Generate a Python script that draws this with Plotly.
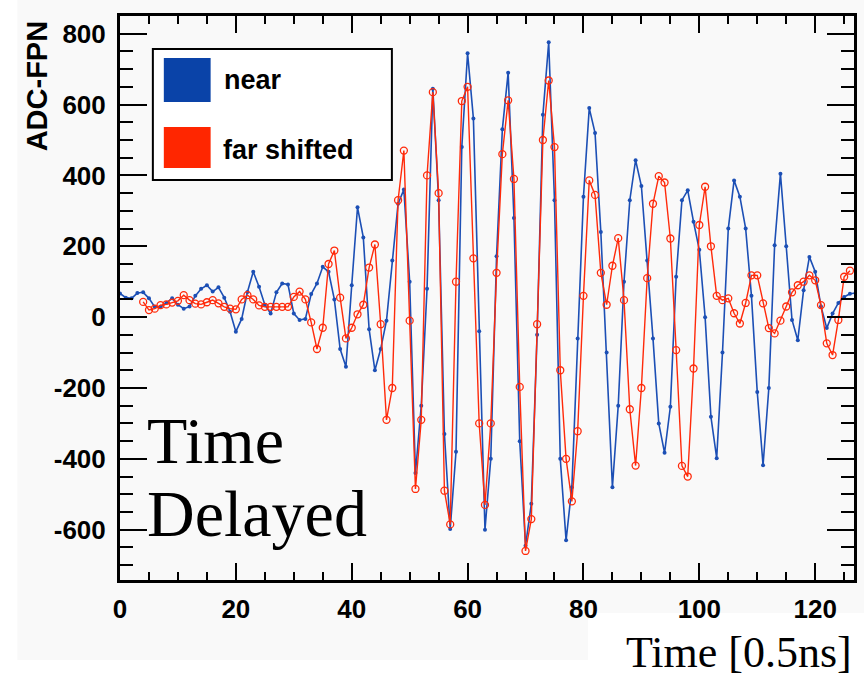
import plotly.graph_objects as go

# ---------------- data ----------------
near_t = list(range(0, 128))
near_adc = [67, 55, 53, 68, 70, 53, 29, 29, 40, 53,
            35, 24, 30, 60, 80, 90, 72, 84, 55, 15,
            -41, -5, 71, 128, 86, 35, 10, 70, 95, 92,
            10, -8, -5, 65, 95, 142, 128, 50, -90, -140,
            90, 310, 225, -34, -150, -90, -10, 160, 320, 360,
            100, -440, -250, 80, 645, 330, -330, -598, -380, 480,
            745, 561, -40, -600, -400, 172, 530, 690, 280, -350,
            -645, -527, -50, 571, 776, 330, -400, -630, -480, -60,
            340, 590, 520, 240, -100, -480, -250, 100, 330, 443,
            370, 160, -60, -300, -383, -253, 114, 330, 358, 269,
            190, 0, -281, -398, -100, 250, 386, 340, 250, 60,
            -211, -418, -200, 203, 405, 200, -8, -65, 76, 170,
            128, 30, -31, 10, 40, 57, 66, 68]

far_t = list(range(4, 127))
far_adc = [43, 20, 24, 34, 36, 41, 46, 62, 48, 38,
           36, 42, 48, 39, 29, 24, 22, 50, 62, 50,
           33, 29, 29, 29, 29, 29, 57, 72, 50, -15,
           -90, -30, 150, 188, 55, -60, -30, 8, 35, 140,
           205, -20, -290, -200, 330, 470, -10, -485, -290, 400,
           635, 350, -490, -585, 100, 610, 650, 166, -300, -530,
           -300, 125, 460, 612, 390, -197, -660, -570, -20, 500,
           668, 480, -150, -400, -520, -322, 60, 386, 345, 125,
           35, 145, 223, 48, -260, -419, -200, 110, 320, 398,
           380, 222, -93, -420, -450, -145, 260, 368, 200, 60,
           48, 53, 11, -18, 40, 118, 118, 39, -31, -46,
           -10, 30, 70, 90, 100, 118, 104, 34, -74, -107,
           -8, 114, 131]

series_names = ["near", "far shifted"]
x_ticks = [0, 20, 40, 60, 80, 100, 120]
y_ticks = [-600, -400, -200, 0, 200, 400, 600, 800]
y_tick_text = ["-600", "-400", "-200", "0", "200", "400", "600", "800"]

# ---------------- styling ----------------
W, H = 867, 680
L, R, T, B = 120, 10, 16, 100
PW, PH = W - L - R, H - T - B
BLUE = "#1c4fb5"
BLUE_SQ = "#0a43a8"
RED = "#ff2a0a"
RED_SQ = "#ff2600"
BG = "#f9f9f9"
SANS = "Liberation Sans, Arial, sans-serif"
SERIF = "Liberation Serif, Times New Roman, serif"


def px(xp):
    return (xp - L) / PW


def py(yp):
    return (H - B - yp) / PH


fig = go.Figure()
fig.add_trace(go.Scatter(
    x=near_t, y=near_adc, mode="lines+markers", name=series_names[0],
    line=dict(color=BLUE, width=1.6),
    marker=dict(color=BLUE, size=4, symbol="circle"),
    showlegend=False))
fig.add_trace(go.Scatter(
    x=far_t, y=far_adc, mode="lines+markers", name=series_names[1],
    line=dict(color=RED, width=1.4),
    marker=dict(color=RED, size=7, symbol="circle-open", line=dict(width=1.3)),
    showlegend=False))

shapes = [
    # light gray screenshot background
    dict(type="rect", xref="paper", yref="paper", x0=px(17), x1=px(867), y0=py(613), y1=py(0),
         fillcolor=BG, line=dict(width=0), layer="below"),
    dict(type="rect", xref="paper", yref="paper", x0=px(17), x1=px(590), y0=py(660), y1=py(613),
         fillcolor=BG, line=dict(width=0), layer="below"),
    # legend box
    dict(type="rect", xref="paper", yref="paper", x0=px(153), x1=px(393), y0=py(180), y1=py(49),
         fillcolor="white", line=dict(color="black", width=2)),
    dict(type="rect", xref="paper", yref="paper", x0=px(164), x1=px(211), y0=py(102), y1=py(58),
         fillcolor=BLUE_SQ, line=dict(width=0)),
    dict(type="rect", xref="paper", yref="paper", x0=px(164), x1=px(211), y0=py(168), y1=py(127),
         fillcolor=RED_SQ, line=dict(width=0)),
]

annotations = [
    dict(text="<b>near</b>", xref="paper", yref="paper", x=px(222), y=py(80),
         xanchor="left", yanchor="middle", showarrow=False,
         font=dict(family=SANS, size=27, color="black")),
    dict(text="<b>far shifted</b>", xref="paper", yref="paper", x=px(221), y=py(150),
         xanchor="left", yanchor="middle", showarrow=False,
         font=dict(family=SANS, size=27, color="black")),
    dict(text="<b>ADC-FPN</b>", xref="paper", yref="paper", x=px(37), y=py(86),
         xanchor="center", yanchor="middle", textangle=-90, showarrow=False,
         font=dict(family=SANS, size=29, color="black")),
    dict(text="Time", xref="paper", yref="paper", x=px(145), y=py(440),
         xanchor="left", yanchor="middle", showarrow=False,
         font=dict(family=SERIF, size=66, color="black")),
    dict(text="Delayed", xref="paper", yref="paper", x=px(145), y=py(513),
         xanchor="left", yanchor="middle", showarrow=False,
         font=dict(family=SERIF, size=66, color="black")),
    dict(text="Time [0.5ns]", xref="paper", yref="paper", x=px(857), y=py(652),
         xanchor="right", yanchor="middle", showarrow=False,
         font=dict(family=SERIF, size=44, color="black")),
]

fig.update_layout(
    width=W, height=H,
    margin=dict(l=L, r=R, t=T, b=B, pad=0),
    paper_bgcolor="white", plot_bgcolor=BG,
    shapes=shapes, annotations=annotations,
    xaxis=dict(range=[0, 126.7], tickvals=x_ticks, ticks="inside", ticklen=17, tickwidth=2,
               tickcolor="black", showline=True, linecolor="black", linewidth=3,
               mirror="allticks", showgrid=False, zeroline=False,
               minor=dict(dtick=5, ticks="inside", ticklen=8, tickwidth=2, tickcolor="black", showgrid=False),
               tickfont=dict(family=SANS, size=26, color="black", weight="bold"),
               ticklabelstandoff=4),
    yaxis=dict(range=[-742, 850], tickvals=y_ticks, ticktext=y_tick_text, ticks="inside",
               ticklen=27, tickwidth=2,
               tickcolor="black", showline=True, linecolor="black", linewidth=3,
               mirror="allticks", showgrid=False, zeroline=False,
               minor=dict(dtick=50, ticks="inside", ticklen=13, tickwidth=2, tickcolor="black", showgrid=False),
               tickfont=dict(family=SANS, size=26, color="black", weight="bold"),
               ticklabelstandoff=6),
)

fig.write_html("out.html")
